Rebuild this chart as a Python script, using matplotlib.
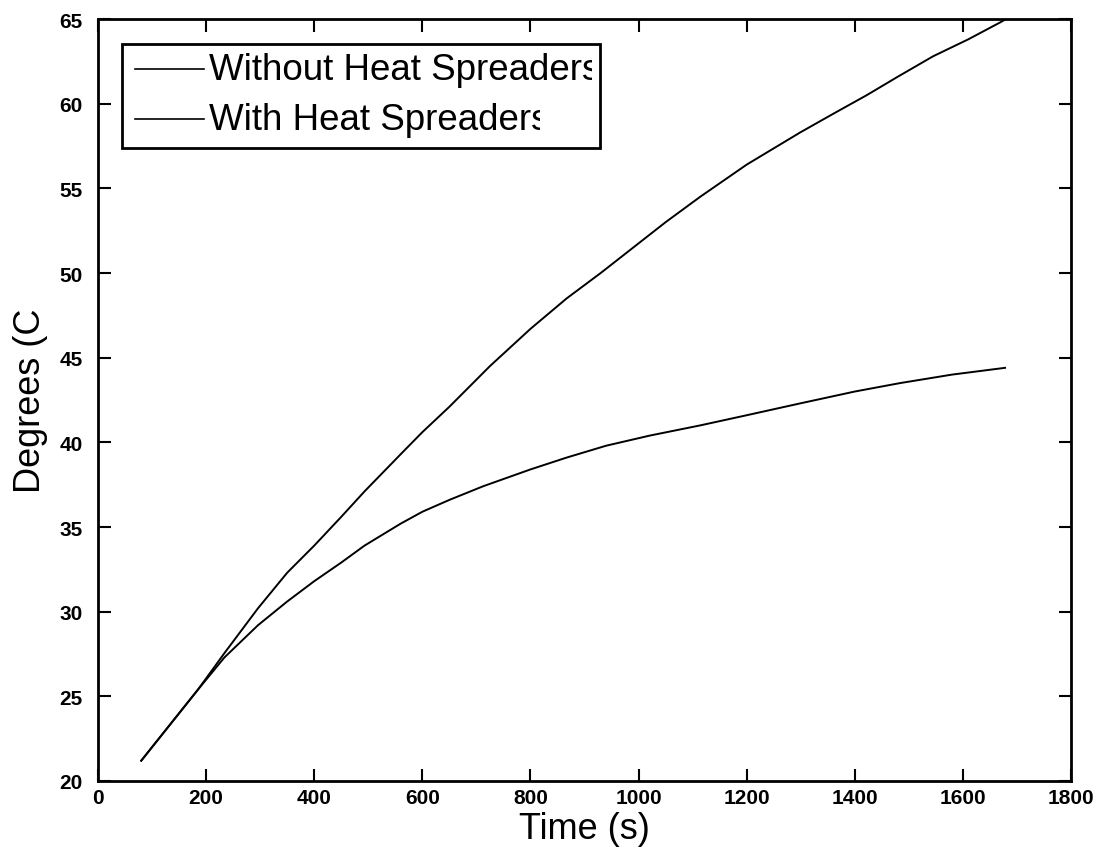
import matplotlib
matplotlib.use("Agg")
import matplotlib.pyplot as plt
from matplotlib.patches import Rectangle
from matplotlib.lines import Line2D
from matplotlib import font_manager

# ---- data ----
time_without = [80, 100, 150, 185, 235, 296, 350, 400, 450, 493, 560, 600, 650,
                725, 800, 867, 930, 990, 1050, 1114, 1200, 1299, 1360, 1422,
                1480, 1545, 1610, 1669, 1680]
temp_without = [21.2, 22.0, 24.0, 25.4, 27.6, 30.2, 32.3, 33.9, 35.6, 37.1, 39.3,
                40.6, 42.1, 44.5, 46.7, 48.5, 50.0, 51.5, 53.0, 54.5, 56.4, 58.3,
                59.4, 60.5, 61.6, 62.8, 63.8, 64.8, 65.0]

time_with = [80, 100, 150, 185, 234, 296, 350, 400, 450, 493, 560, 600, 650, 712,
             800, 867, 940, 1021, 1114, 1200, 1299, 1400, 1484, 1580, 1678]
temp_with = [21.2, 22.0, 24.0, 25.4, 27.3, 29.2, 30.6, 31.8, 32.9, 33.9, 35.2,
             35.9, 36.6, 37.4, 38.4, 39.1, 39.8, 40.4, 41.0, 41.6, 42.3, 43.0,
             43.5, 44.0, 44.4]

series_labels = ["Without Heat Spreaders", "With Heat Spreaders"]
x_ticks = [0, 200, 400, 600, 800, 1000, 1200, 1400, 1600, 1800]
y_ticks = [20, 25, 30, 35, 40, 45, 50, 55, 60, 65]
x_label = "Time (s)"
y_label = "Degrees (C"

installed = {f.name for f in font_manager.fontManager.ttflist}
tick_family = "Liberation Sans Narrow" if "Liberation Sans Narrow" in installed else "Liberation Sans"
tick_size = 17 if tick_family == "Liberation Sans Narrow" else 15

W, H = 1099, 862
fig = plt.figure(figsize=(W / 100, H / 100), dpi=100)
L, R, T, B = 98, 1071, 20, 782
ax = fig.add_axes([L / W, (H - B) / H, (R - L) / W, (B - T) / H])

ax.plot(time_without, temp_without, color="black", lw=1.4)
ax.plot(time_with, temp_with, color="black", lw=1.4)

ax.set_xlim(0, 1800)
ax.set_ylim(20, 65)
ax.set_xticks(x_ticks)
ax.set_yticks(y_ticks)
ax.tick_params(direction="in", length=9, width=1.5, top=True, right=True,
               labelsize=tick_size)
ax.tick_params(axis="y", pad=11)
ax.tick_params(axis="x", pad=5)
for lab in ax.get_xticklabels() + ax.get_yticklabels():
    lab.set_fontfamily(tick_family)
    lab.set_fontweight("bold")
for s in ax.spines.values():
    s.set_linewidth(2)

ax.set_xlabel(x_label, fontsize=26, family="Liberation Sans", labelpad=3)
ax.set_ylabel(y_label, fontsize=26, family="Liberation Sans", labelpad=8)

# ---- manual legend (axes-fraction coordinates from pixel geometry) ----
def ax_x(px):
    return (px - L) / (R - L)

def ax_y(py):
    return (B - py) / (B - T)

box = Rectangle((ax_x(122), ax_y(149)), ax_x(600) - ax_x(122), ax_y(45) - ax_y(149),
                transform=ax.transAxes, facecolor="white", edgecolor="black",
                lw=2, zorder=5)
ax.add_patch(box)
rows_y = [70, 120]
clip_right = [592, 540]
for lbl, py, cr in zip(series_labels, rows_y, clip_right):
    ax.add_line(Line2D([ax_x(135), ax_x(204)], [ax_y(py), ax_y(py)],
                       transform=ax.transAxes, color="black", lw=1.2, zorder=6))
    t = ax.text(ax_x(209), ax_y(py), lbl, transform=ax.transAxes,
                fontsize=26.5, family="Liberation Sans", va="center", ha="left",
                zorder=6, clip_on=True)
    clip = Rectangle((ax_x(200), ax_y(149)), ax_x(cr) - ax_x(200),
                     ax_y(45) - ax_y(149), transform=ax.transAxes)
    t.set_clip_path(clip)

fig.savefig("out.png", dpi=100)
